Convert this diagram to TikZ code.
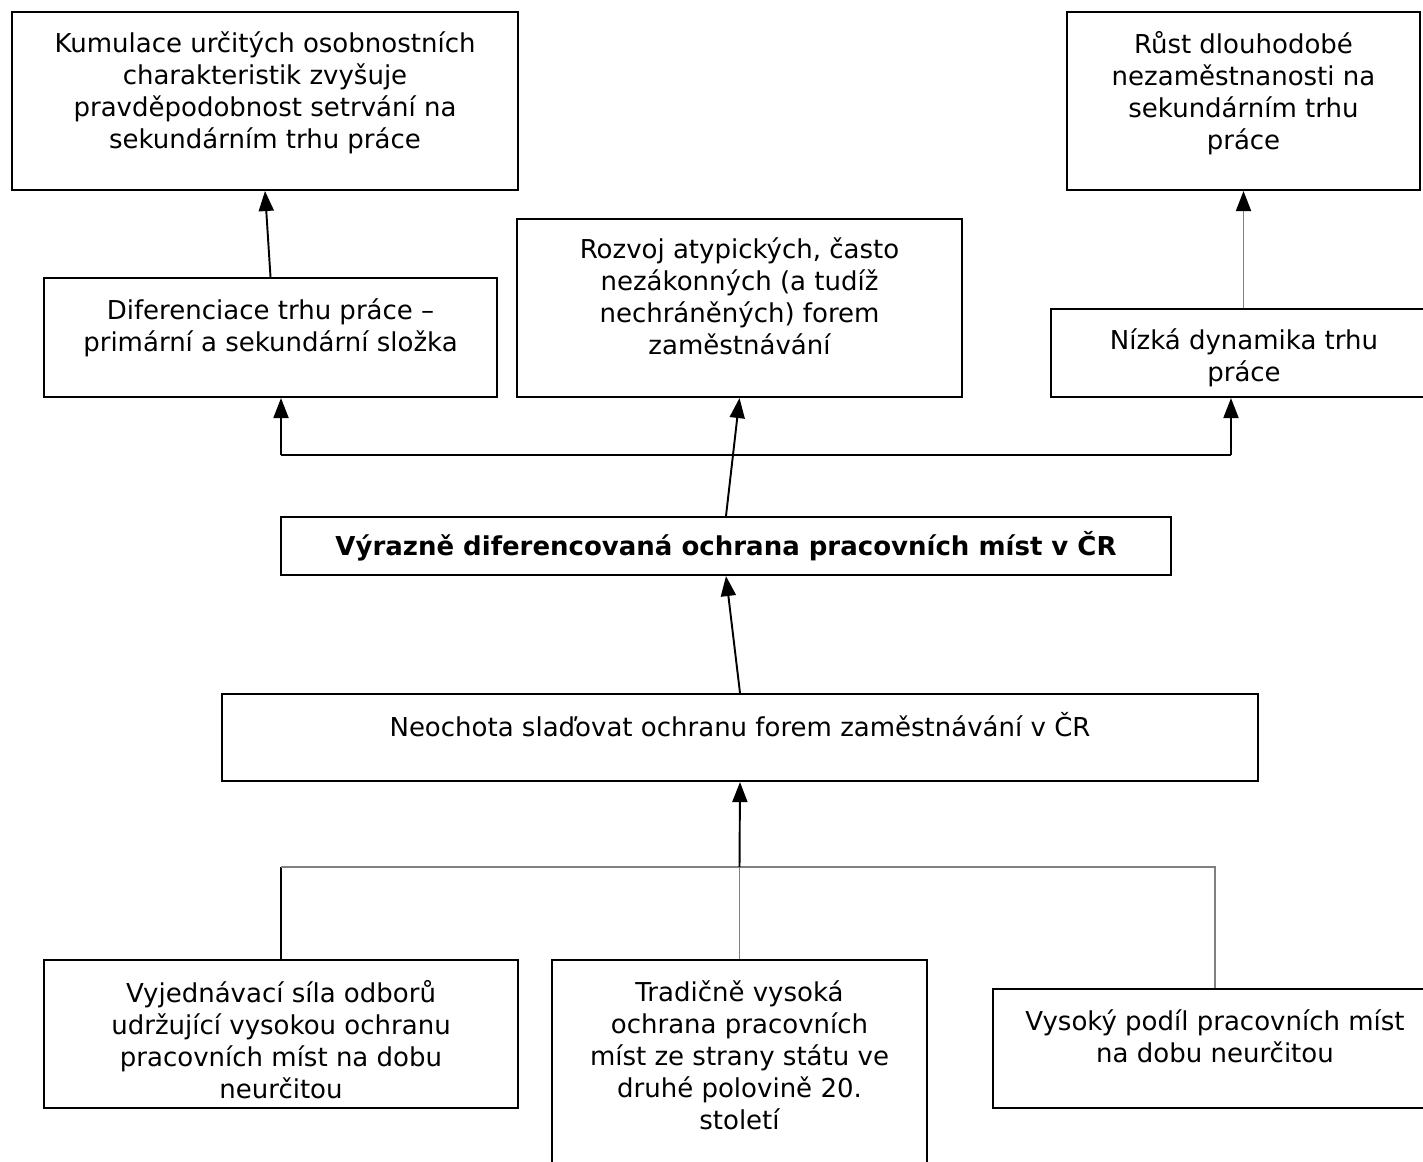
\documentclass[tikz,border=0pt]{standalone}
\usepackage{fontspec}
\setmainfont{DejaVu Sans}
\usetikzlibrary{positioning,arrows.meta,fit}
\definecolor{linegray}{gray}{0.5}

\begin{document}
\begin{tikzpicture}[x=0.02cm,y=-0.02cm,
  box/.style={draw,line width=1.2pt,inner sep=0pt},
  txt/.style={align=center,inner sep=0pt,font=\fontsize{14.8}{18.3}\selectfont},
  arr/.style={-{Triangle[length=0.4cm,width=0.3cm,color=black]},line width=1.1pt},
  wire/.style={line width=1.1pt}]
  \useasboundingbox (0,0) rectangle (1423,1162);
  % top row
  \node[box,fit={(12,12) (518,190)}] (cum) {};
  \node[txt,below=0.4cm of cum.north] (cumT) {Kumulace určitých osobnostních\\ charakteristik zvyšuje\\ pravděpodobnost setrvání na\\ sekundárním trhu práce};
  \node[box,fit={(1067,12) (1420,190)}] (rust) {};
  \node[txt,below=0.4cm of rust.north] (rustT) {Růst dlouhodobé\\ nezaměstnanosti na\\ sekundárním trhu\\ práce};
  % second row
  \node[box,fit={(44,278) (497,397)}] (dif) {};
  \node[txt,below=0.42cm of dif.north] (difT) {Diferenciace trhu práce –\\ primární a sekundární složka};
  \node[box,fit={(517,219) (962,397)}] (roz) {};
  \node[txt,below=0.38cm of roz.north] (rozT) {Rozvoj atypických, často\\ nezákonných (a tudíž\\ nechráněných) forem\\ zaměstnávání};
  \node[box,fit={(1051,309) (1437,397)}] (nizk) {};
  \node[txt,below=0.4cm of nizk.north] (nizkT) {Nízká dynamika trhu\\ práce};
  % middle
  \node[box,fit={(281,517) (1171,575)}] (vyr) {};
  \node[txt,font=\fontsize{14.8}{18.3}\selectfont\bfseries] (vyrT) at (vyr.center) {Výrazně diferencovaná ochrana pracovních míst v ČR};
  \node[box,fit={(222,694) (1258,781)}] (neo) {};
  \node[txt,below=0.38cm of neo.north] (neoT) {Neochota slaďovat ochranu forem zaměstnávání v ČR};
  % bottom row
  \node[box,fit={(44,960) (518,1108)}] (odb) {};
  \node[txt,below=0.42cm of odb.north] (odbT) {Vyjednávací síla odborů\\ udržující vysokou ochranu\\ pracovních míst na dobu\\ neurčitou};
  \node[box,fit={(552,960) (927,1180)}] (trad) {};
  \node[txt,below=0.42cm of trad.north] (tradT) {Tradičně vysoká\\ ochrana pracovních\\ míst ze strany státu ve\\ druhé polovině 20.\\ století};
  \node[box,fit={(993,989) (1437,1108)}] (podil) {};
  \node[txt,below=0.42cm of podil.north] (podilT) {Vysoký podíl pracovních míst\\ na dobu neurčitou};

  % connectors
  \draw[arr] (dif.north) -- (cum.south);
  \draw[arr,linegray] (rust.south |- nizk.north) -- (rust.south);
  \coordinate (busL) at (281,455);
  \coordinate (busR) at (1231,455);
  \draw[arr] (busL) -- (busL |- dif.south);
  \draw[wire] (busL) -- (busR);
  \draw[arr] (busR) -- (busR |- nizk.south);
  \draw[arr] (vyr.north) -- (roz.south);
  \draw[arr] (neo.north) -- (vyr.south);
  \coordinate (busB) at (0,867);
  \draw[wire] (odb.north) -- (odb.north |- busB);
  \draw[wire,linegray] (odb.north |- busB) -- (podil.north |- busB) -- (podil.north);
  \draw[wire,linegray] (trad.north) -- (trad.north |- busB);
  \draw[arr] (trad.north |- busB) -- (neo.south);
\end{tikzpicture}
\end{document}
